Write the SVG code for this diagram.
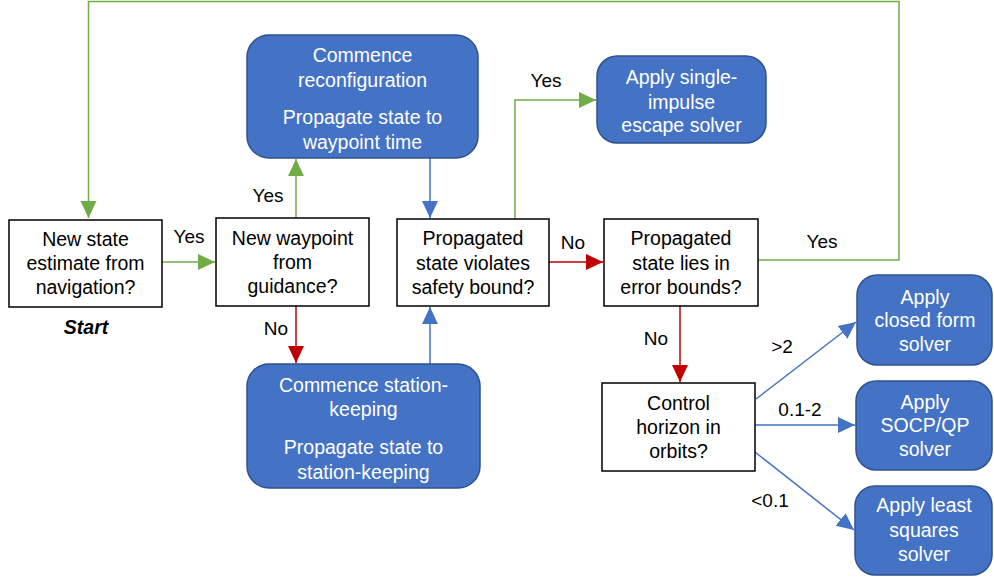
<svg xmlns="http://www.w3.org/2000/svg" width="994" height="579" viewBox="0 0 994 579">
<style>
.box{fill:#fff;stroke:#000;stroke-width:1.5}
.rbox{fill:#4472C4;stroke:#2F528F;stroke-width:1.5}
.t{font-family:"Liberation Sans",Arial,sans-serif;font-size:19.5px;fill:#000;text-anchor:middle}
.w{fill:#fff}
.g{stroke:#70AD47;stroke-width:1.5;fill:none}
.r{stroke:#C00000;stroke-width:1.5;fill:none}
.b{stroke:#4472C4;stroke-width:1.5;fill:none}
.lbl{font-family:"Liberation Sans",Arial,sans-serif;font-size:19px;fill:#000;text-anchor:middle}
</style>
<defs>
<marker id="ag" markerUnits="userSpaceOnUse" markerWidth="18" markerHeight="18" viewBox="0 0 18 18" refX="17" refY="9" orient="auto"><path d="M0,1 L17,9 L0,17 Z" fill="#70AD47"/></marker>
<marker id="ar" markerUnits="userSpaceOnUse" markerWidth="18" markerHeight="18" viewBox="0 0 18 18" refX="17" refY="9" orient="auto"><path d="M0,1 L17,9 L0,17 Z" fill="#C00000"/></marker>
<marker id="ab" markerUnits="userSpaceOnUse" markerWidth="18" markerHeight="18" viewBox="0 0 18 18" refX="17" refY="9" orient="auto"><path d="M0,1 L17,9 L0,17 Z" fill="#4472C4"/></marker>
</defs>
<g id="connectors">
<polyline class="g" points="758,260 899,260 899,1.5 88.5,1.5 88.5,218" marker-end="url(#ag)"/>
<line class="g" x1="162" y1="262" x2="215" y2="262" marker-end="url(#ag)"/>
<line class="g" x1="296" y1="218" x2="296" y2="159" marker-end="url(#ag)"/>
<line class="r" x1="296" y1="306" x2="296" y2="363" marker-end="url(#ar)"/>
<line class="b" x1="430" y1="158" x2="430" y2="218" marker-end="url(#ab)"/>
<line class="b" x1="430" y1="364" x2="430" y2="307" marker-end="url(#ab)"/>
<polyline class="g" points="515,219 515,100 596,100" marker-end="url(#ag)"/>
<line class="r" x1="549" y1="262" x2="603" y2="262" marker-end="url(#ar)"/>
<line class="r" x1="680" y1="306" x2="680" y2="382" marker-end="url(#ar)"/>
<line class="b" x1="756" y1="399" x2="856" y2="322" marker-end="url(#ab)"/>
<line class="b" x1="755" y1="425" x2="855" y2="425" marker-end="url(#ab)"/>
<line class="b" x1="755" y1="452" x2="854" y2="530" marker-end="url(#ab)"/>
<text class="lbl" x="822" y="248">Yes</text>
<text class="lbl" x="189" y="243">Yes</text>
<text class="lbl" x="268" y="202">Yes</text>
<text class="lbl" x="276" y="335">No</text>
<text class="lbl" x="546" y="87">Yes</text>
<text class="lbl" x="573" y="249">No</text>
<text class="lbl" x="656" y="345">No</text>
<text class="lbl" x="782" y="353">&gt;2</text>
<text class="lbl" x="800" y="416">0.1-2</text>
<text class="lbl" x="770" y="507">&lt;0.1</text>
</g>
<g id="n-start">
<rect class="box" x="9" y="220" width="153" height="87"/>
<text class="t" x="85.5" y="246">New state</text>
<text class="t" x="85.5" y="270">estimate from</text>
<text class="t" x="85.5" y="294">navigation?</text>
<text class="t" x="86" y="334" style="font-weight:bold;font-style:italic">Start</text>
</g>
<g id="n-waypoint">
<rect class="box" x="216" y="218" width="153" height="88"/>
<text class="t" x="292.5" y="245">New waypoint</text>
<text class="t" x="292.5" y="269">from</text>
<text class="t" x="292.5" y="293">guidance?</text>
</g>
<g id="n-reconfig">
<rect class="rbox" x="247" y="35" width="231" height="123" rx="22"/>
<text class="t w" x="362.5" y="62">Commence</text>
<text class="t w" x="362.5" y="87">reconfiguration</text>
<text class="t w" x="362.5" y="124">Propagate state to</text>
<text class="t w" x="362.5" y="149">waypoint time</text>
</g>
<g id="n-station">
<rect class="rbox" x="247" y="364" width="233" height="124" rx="22"/>
<text class="t w" x="363.5" y="392">Commence station-</text>
<text class="t w" x="363.5" y="416">keeping</text>
<text class="t w" x="363.5" y="454">Propagate state to</text>
<text class="t w" x="363.5" y="479">station-keeping</text>
</g>
<g id="n-safety">
<rect class="box" x="397" y="219" width="152" height="87"/>
<text class="t" x="473" y="245">Propagated</text>
<text class="t" x="473" y="270">state violates</text>
<text class="t" x="473" y="294">safety bound?</text>
</g>
<g id="n-escape">
<rect class="rbox" x="597" y="56" width="169" height="87" rx="20"/>
<text class="t w" x="681.5" y="84">Apply single-</text>
<text class="t w" x="681.5" y="109">impulse</text>
<text class="t w" x="681.5" y="132">escape solver</text>
</g>
<g id="n-error">
<rect class="box" x="604" y="219" width="154" height="87"/>
<text class="t" x="681" y="245">Propagated</text>
<text class="t" x="681" y="270">state lies in</text>
<text class="t" x="681" y="294">error bounds?</text>
</g>
<g id="n-horizon">
<rect class="box" x="602" y="383" width="153" height="88"/>
<text class="t" x="678.5" y="410">Control</text>
<text class="t" x="678.5" y="434">horizon in</text>
<text class="t" x="678.5" y="458">orbits?</text>
</g>
<g id="n-closed">
<rect class="rbox" x="857" y="275" width="135" height="90" rx="20"/>
<text class="t w" x="925" y="304">Apply</text>
<text class="t w" x="925" y="327">closed form</text>
<text class="t w" x="925" y="351">solver</text>
</g>
<g id="n-socp">
<rect class="rbox" x="856" y="381" width="136" height="89" rx="20"/>
<text class="t w" x="925" y="409">Apply</text>
<text class="t w" x="925" y="432">SOCP/QP</text>
<text class="t w" x="925" y="456">solver</text>
</g>
<g id="n-lsq">
<rect class="rbox" x="855" y="486" width="137" height="89" rx="20"/>
<text class="t w" x="924" y="512">Apply least</text>
<text class="t w" x="924" y="537">squares</text>
<text class="t w" x="924" y="561">solver</text>
</g>
</svg>
